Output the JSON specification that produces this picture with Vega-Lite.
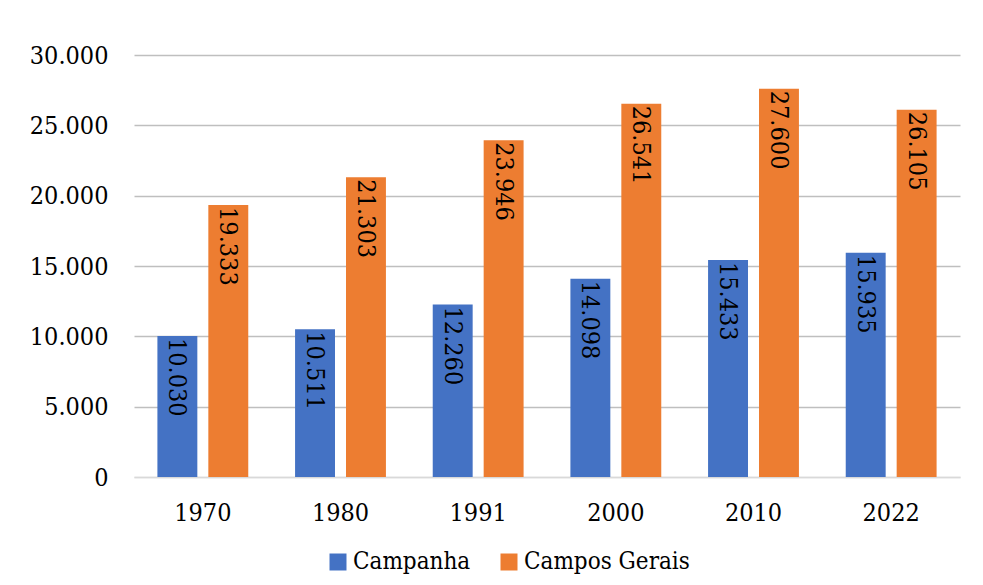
{
  "$schema": "https://vega.github.io/schema/vega-lite/v6.json",
  "width": 826,
  "height": 422,
  "autosize": {"type": "none"},
  "padding": {"left": 134, "top": 55, "right": 23, "bottom": 108},
  "config": {
    "locale": {"number": {"decimal": ",", "thousands": ".", "grouping": [3], "currency": ["R$", ""]}},
    "view": {"stroke": null},
    "font": "DejaVu Serif Condensed, DejaVu Serif"
  },
  "data": {
    "values": [
      {"ano": "1970", "regiao": "Campanha", "pop": 10030},
      {"ano": "1970", "regiao": "Campos Gerais", "pop": 19333},
      {"ano": "1980", "regiao": "Campanha", "pop": 10511},
      {"ano": "1980", "regiao": "Campos Gerais", "pop": 21303},
      {"ano": "1991", "regiao": "Campanha", "pop": 12260},
      {"ano": "1991", "regiao": "Campos Gerais", "pop": 23946},
      {"ano": "2000", "regiao": "Campanha", "pop": 14098},
      {"ano": "2000", "regiao": "Campos Gerais", "pop": 26541},
      {"ano": "2010", "regiao": "Campanha", "pop": 15433},
      {"ano": "2010", "regiao": "Campos Gerais", "pop": 27600},
      {"ano": "2022", "regiao": "Campanha", "pop": 15935},
      {"ano": "2022", "regiao": "Campos Gerais", "pop": 26105}
    ]
  },
  "encoding": {
    "x": {
      "field": "ano",
      "type": "nominal",
      "scale": {"paddingInner": 0.34, "paddingOuter": 0.17},
      "axis": {
        "title": null,
        "labelAngle": 0,
        "ticks": false,
        "tickSize": 0,
        "domainColor": "#D9D9D9",
        "domainWidth": 1.5,
        "labelPadding": 23,
        "labelFontSize": 25,
        "labelColor": "#000000",
        "labelFont": "DejaVu Serif Condensed, DejaVu Serif"
      }
    },
    "xOffset": {
      "field": "regiao",
      "type": "nominal",
      "sort": ["Campanha", "Campos Gerais"],
      "scale": {"paddingInner": 0.216, "paddingOuter": 0}
    },
    "y": {
      "field": "pop",
      "type": "quantitative",
      "scale": {"domain": [0, 30000]},
      "axis": {
        "title": null,
        "values": [0, 5000, 10000, 15000, 20000, 25000, 30000],
        "format": ",d",
        "ticks": false,
        "tickSize": 0,
        "domain": false,
        "labelPadding": 26,
        "labelFontSize": 25,
        "labelColor": "#000000",
        "labelFont": "DejaVu Serif Condensed, DejaVu Serif",
        "gridColor": {"condition": {"test": "datum.value === 0", "value": "#D9D9D9"}, "value": "#BFBFBF"},
        "gridWidth": 1.5
      }
    }
  },
  "layer": [
    {
      "mark": {"type": "bar"},
      "encoding": {
        "color": {
          "field": "regiao",
          "type": "nominal",
          "scale": {"domain": ["Campanha", "Campos Gerais"], "range": ["#4472C4", "#ED7D31"]},
          "legend": {
            "title": null,
            "orient": "none",
            "legendX": 192,
            "legendY": 495,
            "direction": "horizontal",
            "symbolType": "square",
            "symbolSize": 289,
            "symbolStrokeWidth": 0,
            "labelFontSize": 24,
            "labelFont": "DejaVu Serif Condensed, DejaVu Serif",
            "labelColor": "#000000",
            "labelOffset": 3,
            "labelLimit": 0,
            "columnPadding": 26
          }
        }
      }
    },
    {
      "mark": {"type": "text", "angle": 90, "align": "left", "baseline": "middle", "dx": 2, "fontSize": 25, "font": "DejaVu Serif Condensed, DejaVu Serif", "color": "#000000"},
      "encoding": {
        "text": {"field": "pop", "type": "quantitative", "format": ",d"}
      }
    }
  ]
}
